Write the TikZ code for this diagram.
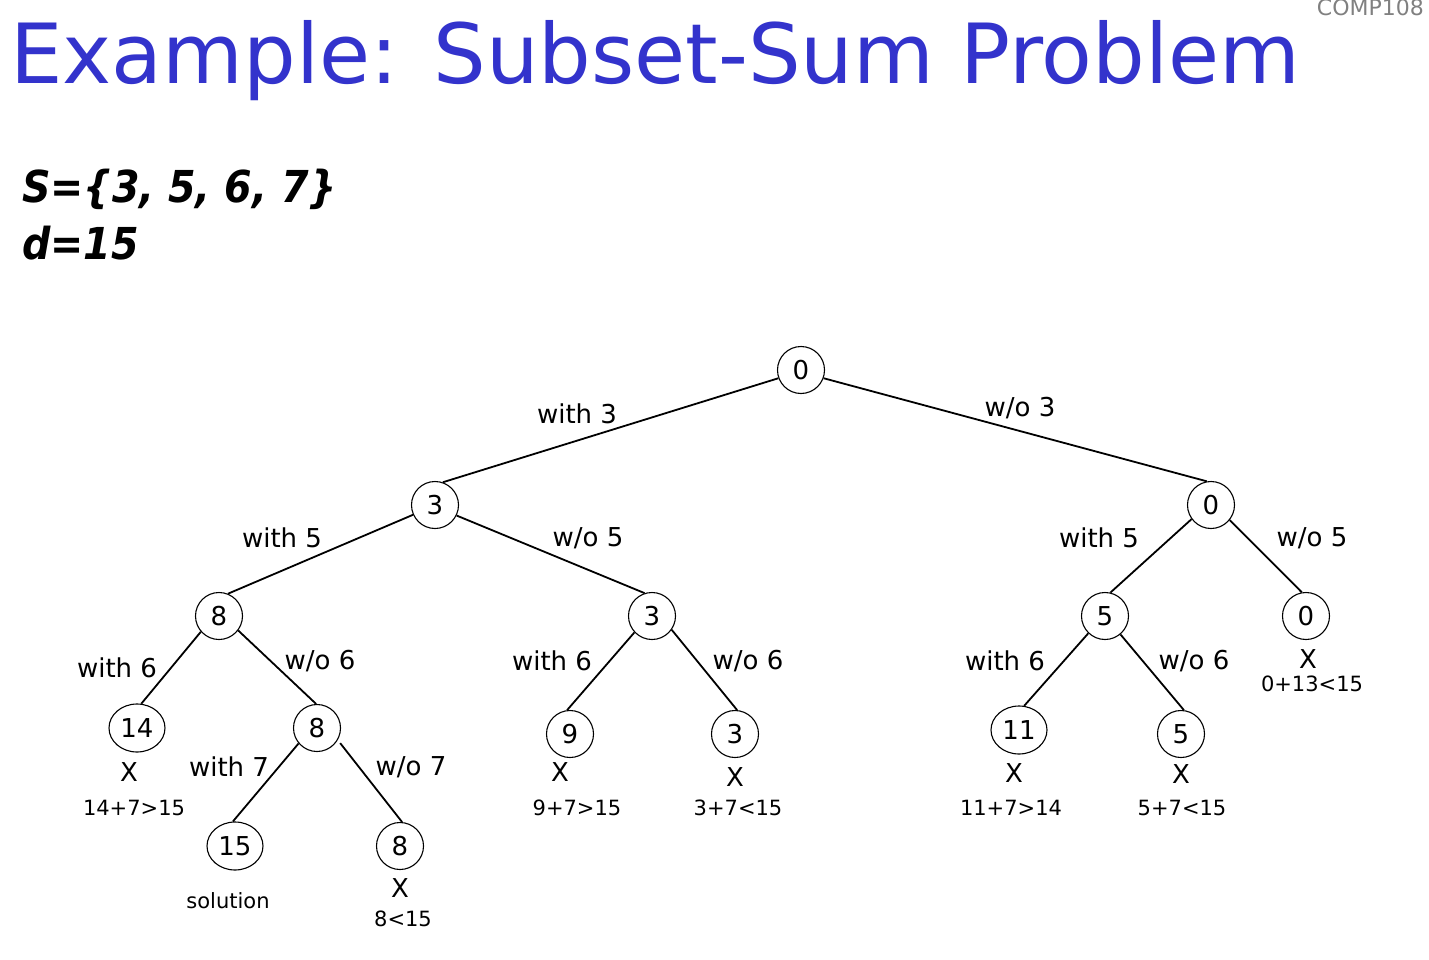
\documentclass[tikz,border=0pt]{standalone}
\usepackage{fontspec}
\setmainfont{DejaVu Sans}
\newfontfamily\handfont{DejaVu Sans Condensed}
\usetikzlibrary{shapes.geometric}
\definecolor{titleblue}{RGB}{51,51,204}
\definecolor{hdrgray}{RGB}{128,128,128}
\tikzset{
  val/.style={circle,draw,line width=1.1pt,minimum size=47pt,inner sep=0pt,font=\fontsize{26}{30}\selectfont},
  wide/.style={ellipse,draw,line width=1.1pt,minimum width=56pt,minimum height=48pt,inner sep=0pt,font=\fontsize{26}{30}\selectfont},
  branch/.style={line width=1.8pt},
  elab/.style={font=\fontsize{26}{30}\selectfont,inner sep=0pt},
  cross/.style={font=\fontsize{26}{30}\selectfont,inner sep=0pt},
  note/.style={font=\fontsize{21}{25}\selectfont,inner sep=0pt},
  given/.style={anchor=base west,inner sep=0pt,font=\fontsize{44}{50}\selectfont\handfont\bfseries\itshape},
}
\begin{document}
\begin{tikzpicture}[x=1pt,y=-1pt]
\useasboundingbox (0,0) rectangle (1429,960);
% header
\node[anchor=base west,inner sep=0pt,text=titleblue,font=\fontsize{83}{90}\selectfont] (title) at (10,84) {Example: Subset-Sum Problem};
\node[anchor=base east,inner sep=0pt,text=hdrgray,font=\fontsize{22}{26}\selectfont] (course) at (1424,16) {COMP108};
% problem data
\node[given] (set) at (22,203) {S=\{3, 5, 6, 7\}};
\node[given] (target) at (22,259) {d=15};
% tree nodes
\node[val] (r) at (801,370) {0};
\node[val] (a) at (435,505) {3};
\node[val] (b) at (1211,505) {0};
\node[val] (aa) at (219,616) {8};
\node[val] (ab) at (652,616) {3};
\node[val] (ba) at (1105,616) {5};
\node[val] (bb) at (1306,616) {0};
\node[wide] (aaa) at (137,728) {14};
\node[val] (aab) at (317,728) {8};
\node[val] (aba) at (570,734) {9};
\node[val] (abb) at (735,734) {3};
\node[wide] (baa) at (1019,730) {11};
\node[val] (bab) at (1181,734) {5};
\node[wide] (aaba) at (235,846) {15};
\node[val] (aabb) at (400,846) {8};
% branches: from the lower side of the parent to the top of the child
\draw[branch] (r.200) -- (a.71);
\draw[branch] (r.340) -- (b.100);
\draw[branch] (a.204) -- (aa.68);
\draw[branch] (a.334) -- (ab.108);
\draw[branch] (b.216) -- (ba.77);
\draw[branch] (b.321) -- (bb.100);
\draw[branch] (aa.221) -- (aaa.80);
\draw[branch] (aa.323) -- (aab.92);
\draw[branch] (ab.223) -- (aba.97);
\draw[branch] (ab.325) -- (abb.85);
\draw[branch] (ba.226) -- (baa.78);
\draw[branch] (ba.310) -- (bab.83);
\draw[branch] (aab.220) -- (aaba.95);
\draw[branch] ([shift={(3,2)}]aab.327) -- (aabb.85);
% branch labels
\node[elab] (l1) at (577,414) {with 3};
\node[elab] (l2) at (1020,408) {w/o 3};
\node[elab] (l3) at (282,538) {with 5};
\node[elab] (l4) at (588,538) {w/o 5};
\node[elab] (l5) at (1099,538) {with 5};
\node[elab] (l6) at (1312,538) {w/o 5};
\node[elab] (l7) at (117,668) {with 6};
\node[elab] (l8) at (320,661) {w/o 6};
\node[elab] (l9) at (552,661) {with 6};
\node[elab] (l10) at (748,661) {w/o 6};
\node[elab] (l11) at (1005,661) {with 6};
\node[elab] (l12) at (1194,661) {w/o 6};
\node[elab] (l13) at (229,767) {with 7};
\node[elab] (l14) at (411,767) {w/o 7};
% outcomes
\node[cross] (x1) at (129,772) {X};
\node[note] (n1) at (134,808) {14+7>15};
\node[note] (n2) at (228,901) {solution};
\node[cross] (x3) at (400,888) {X};
\node[note] (n3) at (403,919) {8<15};
\node[cross] (x4) at (560,772) {X};
\node[note] (n4) at (577,808) {9+7>15};
\node[cross] (x5) at (735,777) {X};
\node[note] (n5) at (738,808) {3+7<15};
\node[cross] (x6) at (1014,773) {X};
\node[note] (n6) at (1011,808) {11+7>14};
\node[cross] (x7) at (1181,774) {X};
\node[note] (n7) at (1182,808) {5+7<15};
\node[cross] (x8) at (1308,659) {X};
\node[note] (n8) at (1312,684) {0+13<15};
\end{tikzpicture}
\end{document}
